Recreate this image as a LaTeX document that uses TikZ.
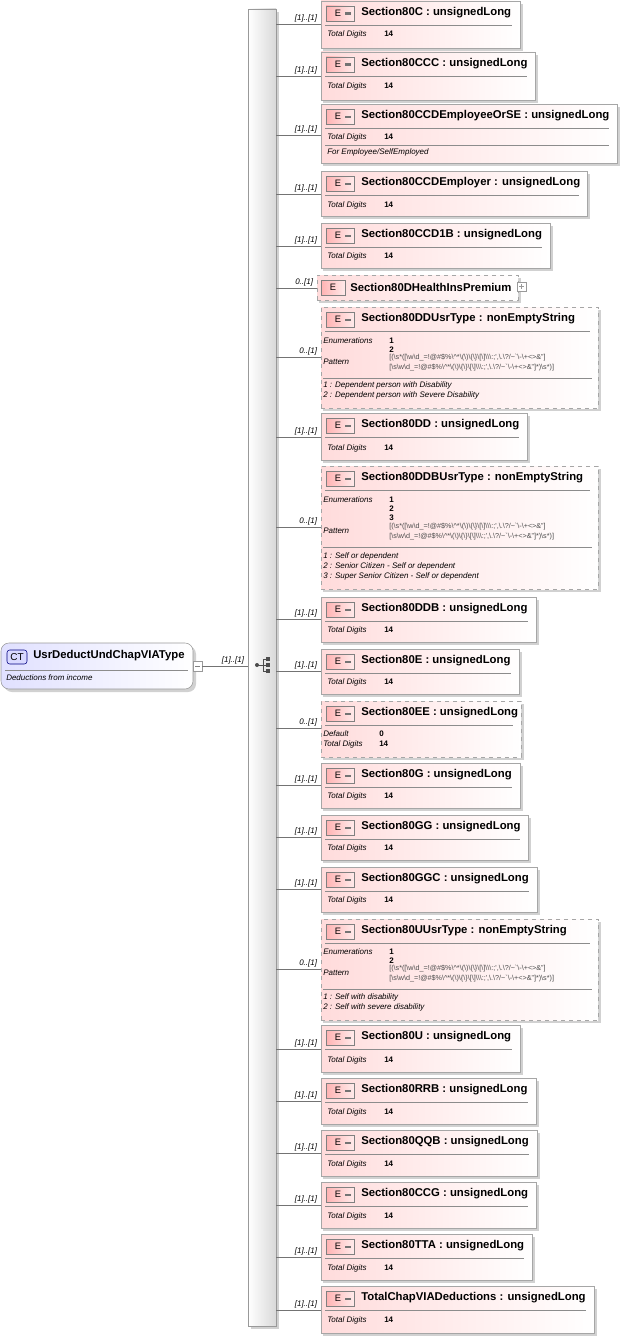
\documentclass[tikz,border=0pt]{standalone}
\usepackage{fontspec}
\setmainfont{Liberation Sans}
\usetikzlibrary{fit}
\begin{document}
\newcommand\bs{\textbackslash}
\newcommand\hdr{\fontsize{8.5}{9}\selectfont\bfseries}
\newcommand\sm{\fontsize{6}{7}\selectfont}
\newcommand\tn{\fontsize{5.4}{6}\selectfont}
\newcommand\patA{[(\bs s*([\bs w\bs d\_=!@\#\$\%\bs\textasciicircum*\bs(\bs)\bs\{\bs\}\bs[\bs]\bs\bs\bs:;\textquotesingle,\bs.\bs?/\textasciitilde\textasciigrave\bs-\bs+<>\&"]}
\newcommand\patB{[\bs s\bs w\bs d\_=!@\#\$\%\bs\textasciicircum*\bs(\bs)\bs\{\bs\}\bs[\bs]\bs\bs\bs:;\textquotesingle,\bs.\bs?/\textasciitilde\textasciigrave\bs-\bs+<>\&"]*)\bs s*)]}
\begin{tikzpicture}[x=0.75pt,y=-0.75pt,
  ebox/.style={draw=black!35,left color=red!14,right color=white,inner sep=0,line width=0.6pt},
  sh/.style={fill=black!18},
  conn/.style={draw=black!55,line width=0.5pt},
  lab/.style={anchor=south east,inner sep=0.5pt,font=\sm\itshape},
  txt/.style={anchor=west,inner sep=0,font=\sm},
  sep/.style={draw=black!45,line width=0.5pt}]
\useasboundingbox (0,0) rectangle (622,1338);
% element box macro: name, top, bottom, right, title, dash, lineY, mult
\newcommand\EB[8]{%
  \fill[sh] (323,#2+3) rectangle (#4+3,#3+3);
  \node[ebox,#6,fit={(321,#2)(#4,#3)}] (#1) {};
  \shade[left color=red!30,right color=red!8,draw=black!50,line width=0.5pt] (326,#2+5) rectangle (354,#2+20);
  \node[inner sep=0,font=\fontsize{7}{8}\selectfont] at (338,#2+12.5) {E};
  \fill[black!55] (345,#2+11.5) rectangle (351,#2+14);
  \node[anchor=west,inner sep=0,font=\hdr] at (361,#2+12) {#5};
  \draw[sep] (325,#2+24) -- (#4-8,#2+24);
  \coordinate (c#1) at (276,#7);
  \draw[conn] (c#1) -- (c#1 -| #1.west);
  \node[lab] at (318,#7-1) {#8};
}
\newcommand\TD[2]{\node[txt,font=\sm\itshape] at (327,#1) {Total Digits}; \node[txt,font=\sm\bfseries] at (384,#1) {#2};}
% bar
\fill[sh] (251,12) rectangle (279,1329);
\shade[left color=white,right color=black!15,draw=black!40] (248,9) rectangle (276,1326);
\node[fit={(248,9)(276,1326)},inner sep=0] (bar) {};
% CT box
\fill[sh,rounded corners=6pt] (4,646) rectangle (196,692);
\node[draw=black!40,left color=blue!12,right color=white,rounded corners=6pt,fit={(1,643)(193,689)},inner sep=0] (ct) {};
\draw[draw=blue!50!black,fill=blue!15,rounded corners=2pt] (7,650) rectangle (27,664);
\node[inner sep=0,font=\fontsize{7.5}{8}\selectfont] at (17,657) {CT};
\node[anchor=west,inner sep=0,font=\hdr] at (33,656) {UsrDeductUndChapVIAType};
\draw[sep] (5,670) -- (188,670);
\node[txt,font=\sm\itshape] at (6,678) {Deductions from income};
\draw[draw=black!40,fill=white] (193,661) rectangle (202,671);
\draw[black!50] (195,666) -- (200,666);
\draw[conn] (202,666) -- (bar.west |- 202,666);
\node[lab] at (245,665) {[1]..[1]};
% sequence icon
\fill[black!70] (257,665) circle (2);
\draw[black!70,line width=0.7pt] (257,665) -- (263,665) (263,659) -- (263,671) (263,659)--(267,659) (263,665)--(267,665) (263,671)--(267,671);
\foreach \yy in {659,665,671} \fill[black!70] (266,\yy-2) rectangle (270,\yy+2);
% boxes
\EB{a}{1}{48}{520}{Section80C : unsignedLong}{}{24}{[1]..[1]}\TD{34}{14}
\EB{b}{52}{100}{535}{Section80CCC : unsignedLong}{}{76}{[1]..[1]}\TD{86}{14}
\EB{c}{104}{163}{617}{Section80CCDEmployeeOrSE : unsignedLong}{}{135}{[1]..[1]}\TD{137}{14}
\draw[sep] (325,145) -- (609,145);
\node[txt,font=\sm\itshape] at (327,152) {For Employee/SelfEmployed};
\EB{d}{171}{216}{587}{Section80CCDEmployer : unsignedLong}{}{194}{[1]..[1]}\TD{205}{14}
\EB{e}{223}{268}{550}{Section80CCD1B : unsignedLong}{}{246}{[1]..[1]}\TD{256}{14}
% health ins premium
\fill[sh] (319,278) rectangle (521,303);
\node[ebox,dashed,fit={(317,275)(518,300)}] (f) {};
\shade[left color=red!30,right color=red!8,draw=black!50,line width=0.5pt] (321,280) rectangle (345,295);
\node[inner sep=0,font=\fontsize{7}{8}\selectfont] at (333,287.5) {E};
\node[anchor=west,inner sep=0,font=\hdr] at (350,287) {Section80DHealthInsPremium};
\draw[black!40,fill=white] (517,282) rectangle (526,291); \draw[black!40] (519,286.5)--(524,286.5) (521.5,284)--(521.5,289);
\coordinate (cf) at (276,288); \draw[conn] (cf) -- (cf -| f.west);
\node[lab] at (314,287) {0..[1]};
% DDUsrType
\EB{g}{307}{408}{598}{Section80DDUsrType : nonEmptyString}{dashed}{357}{0..[1]}
\node[txt,font=\sm\itshape] at (323,341) {Enumerations};
\node[txt,font=\sm\bfseries] at (389,341) {1};\node[txt,font=\sm\bfseries] at (389,350) {2};
\node[txt,font=\sm\itshape] at (323,362) {Pattern};
\node[txt,font=\tn,text=black!70] at (389,358) {\patA};\node[txt,font=\tn,text=black!70] at (389,368) {\patB};
\draw[sep] (323,378) -- (592,378);
\node[txt,font=\sm\itshape] at (323,385) {1 : Dependent person with Disability};
\node[txt,font=\sm\itshape] at (323,395) {2 : Dependent person with Severe Disability};
\EB{h}{413}{460}{527}{Section80DD : unsignedLong}{}{437}{[1]..[1]}\TD{448}{14}
% DDBUsrType
\EB{i}{466}{589}{598}{Section80DDBUsrType : nonEmptyString}{dashed}{527}{0..[1]}
\node[txt,font=\sm\itshape] at (323,500) {Enumerations};
\node[txt,font=\sm\bfseries] at (389,500) {1};\node[txt,font=\sm\bfseries] at (389,509) {2};\node[txt,font=\sm\bfseries] at (389,518) {3};
\node[txt,font=\sm\itshape] at (323,531) {Pattern};
\node[txt,font=\tn,text=black!70] at (389,527) {\patA};\node[txt,font=\tn,text=black!70] at (389,537) {\patB};
\draw[sep] (323,547) -- (592,547);
\node[txt,font=\sm\itshape] at (323,556) {1 : Self or dependent};
\node[txt,font=\sm\itshape] at (323,566) {2 : Senior Citizen - Self or dependent};
\node[txt,font=\sm\itshape] at (323,576) {3 : Super Senior Citizen - Self or dependent};
\EB{j}{597}{642}{536}{Section80DDB : unsignedLong}{}{619}{[1]..[1]}\TD{630}{14}
\EB{k}{649}{694}{519}{Section80E : unsignedLong}{}{671}{[1]..[1]}\TD{682}{14}
\EB{l}{701}{757}{521}{Section80EE : unsignedLong}{dashed}{728}{0..[1]}
\node[txt,font=\sm\itshape] at (323,734) {Default};\node[txt,font=\sm\bfseries] at (379,734) {0};
\node[txt,font=\sm\itshape] at (323,744) {Total Digits};\node[txt,font=\sm\bfseries] at (379,744) {14};
\EB{m}{763}{808}{520}{Section80G : unsignedLong}{}{785}{[1]..[1]}\TD{796}{14}
\EB{n}{815}{860}{528}{Section80GG : unsignedLong}{}{837}{[1]..[1]}\TD{848}{14}
\EB{o}{867}{912}{537}{Section80GGC : unsignedLong}{}{889}{[1]..[1]}\TD{900}{14}
% UUsrType
\EB{p}{919}{1020}{598}{Section80UUsrType : nonEmptyString}{dashed}{969}{0..[1]}
\node[txt,font=\sm\itshape] at (323,952) {Enumerations};
\node[txt,font=\sm\bfseries] at (389,952) {1};\node[txt,font=\sm\bfseries] at (389,961) {2};
\node[txt,font=\sm\itshape] at (323,973) {Pattern};
\node[txt,font=\tn,text=black!70] at (389,969) {\patA};\node[txt,font=\tn,text=black!70] at (389,979) {\patB};
\draw[sep] (323,989) -- (592,989);
\node[txt,font=\sm\itshape] at (323,997) {1 : Self with disability};
\node[txt,font=\sm\itshape] at (323,1007) {2 : Self with severe disability};
\EB{q}{1025}{1072}{520}{Section80U : unsignedLong}{}{1049}{[1]..[1]}\TD{1060}{14}
\EB{r}{1078}{1124}{536}{Section80RRB : unsignedLong}{}{1101}{[1]..[1]}\TD{1112}{14}
\EB{s}{1130}{1176}{537}{Section80QQB : unsignedLong}{}{1153}{[1]..[1]}\TD{1164}{14}
\EB{t}{1182}{1228}{536}{Section80CCG : unsignedLong}{}{1205}{[1]..[1]}\TD{1216}{14}
\EB{u}{1234}{1280}{532}{Section80TTA : unsignedLong}{}{1257}{[1]..[1]}\TD{1268}{14}
\EB{v}{1286}{1333}{594}{TotalChapVIADeductions : unsignedLong}{}{1310}{[1]..[1]}\TD{1320}{14}
\end{tikzpicture}
\end{document}
